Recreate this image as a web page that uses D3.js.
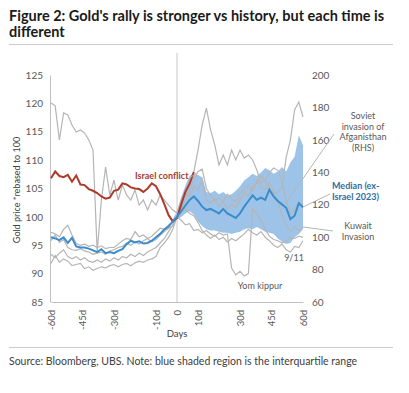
<!DOCTYPE html>
<html>
<head>
<meta charset="utf-8">
<script src="https://cdn.jsdelivr.net/npm/d3@7"></script>
<style>
  body { margin: 0; background: #fff; }
  text { font-family: Lato, "Open Sans", sans-serif; }
</style>
</head>
<body>
<div id="chart"></div>
<script>
// days relative to the event (step 2)
var days = [-60,-58,-56,-54,-52,-50,-48,-46,-44,-42,-40,-38,-36,-34,-32,-30,-28,-26,-24,-22,-20,-18,-16,-14,-12,-10,-8,-6,-4,-2,0,
            2,4,6,8,10,12,14,16,18,20,22,24,26,28,30,32,34,36,38,40,42,44,46,48,50,52,54,56,58,60];

var xTicks = [-60, -45, -30, -10, 0, 10, 30, 45, 60];
var xTickLabels = ["-60d", "-45d", "-30d", "-10d", "0", "10d", "30d", "45d", "60d"];
var leftTicks = [85, 90, 95, 100, 105, 110, 115, 120, 125];
var rightTicks = [60, 80, 100, 120, 140, 160, 180, 200];

// Israel conflict 2023, days -60 .. 8
var israel = [106.8,108.0,107.2,107.0,107.4,106.2,107.3,105.7,105.6,104.9,104.6,104.2,103.6,103.2,103.4,104.6,104.8,105.9,105.7,105.2,105.0,104.9,104.4,105.0,105.9,105.4,104.0,102.2,100.3,99.2,99.8,102.2,104.4,105.8,107.9];

// median ex-Israel, days -60 .. 60
var median = [96.4,96.2,95.9,96.4,95.4,96.3,94.8,94.6,94.6,94.4,94.1,93.8,94.3,93.6,93.8,93.6,94.0,94.3,95.2,95.8,95.5,95.7,95.3,95.4,95.8,96.4,97.0,97.8,98.3,99.2,100.0,
              101.0,102.0,103.0,103.6,102.8,101.8,101.2,101.4,101.0,100.6,101.4,100.6,100.2,99.8,100.6,101.8,102.8,103.8,103.0,103.4,103.0,104.8,103.6,102.8,102.2,101.6,99.6,100.2,102.4,101.7];

// interquartile range, days -2 .. 60
var iqrLow  = [99.0,99.6,100.0,100.6,101.0,100.4,99.2,98.4,97.8,97.6,97.6,97.4,97.2,97.2,97.0,97.2,97.4,97.8,98.0,97.8,98.2,97.8,97.4,97.2,97.0,96.2,95.6,95.2,95.4,96.4,97.0,97.8];
var iqrHigh = [99.6,101.0,103.5,105.5,107.2,107.6,107.4,107.0,104.4,104.2,104.6,104.0,104.4,103.8,104.0,104.6,105.4,106.4,107.0,107.6,107.2,107.8,108.6,108.2,107.6,108.0,108.8,108.0,109.6,110.6,114.4,112.6];

// Soviet invasion of Afghanistan (right axis), days -60 .. 60
var soviet = [182.7,181.0,159.9,176.6,175.3,169.2,164.8,166.1,164.2,159.9,153.7,90.8,122.9,143.2,126.0,135.2,122.9,132.1,126.0,122.9,129.1,119.8,122.9,116.7,122.9,119.8,126.0,122.9,119.8,116.7,114.9,
              122.9,129.1,135.2,140.2,153.7,169.2,179.6,166.1,156.8,144.5,150.6,144.5,153.7,147.6,153.7,148.8,150.6,147.6,141.4,133.4,135.2,129.1,127.2,127.8,130.9,149.4,159.9,178.4,183.3,174.1];

var kuwait = [97.3,97.0,96.5,97.8,98.5,96.8,95.3,95.0,95.2,94.8,95.0,94.6,94.9,94.4,94.6,94.6,95.2,95.8,96.2,96.0,97.4,96.5,96.8,96.2,96.6,97.3,98.0,97.8,98.6,99.0,100.0,
              101.5,103.0,104.5,106.6,108.0,108.4,105.0,103.8,102.8,103.4,102.6,104.0,103.2,102.6,104.2,104.8,105.6,104.6,106.4,105.2,104.8,106.0,104.4,102.6,100.4,98.6,97.4,98.2,97.6,98.1];

var sept11 = [95.8,96.8,95.5,96.0,94.6,94.2,94.1,94.4,94.0,93.8,93.4,93.6,93.8,93.4,94.0,94.2,94.6,94.8,95.4,95.0,95.6,95.2,95.8,96.2,95.6,96.0,96.8,97.4,98.0,98.4,100.0,
              100.8,101.4,100.6,100.2,99.0,97.6,96.8,96.2,96.8,96.0,96.4,95.6,96.2,95.8,96.4,97.0,97.8,97.2,96.8,97.4,96.4,95.8,95.0,94.6,95.2,94.2,93.8,94.8,94.6,95.8];

var yomKippur = [91.8,93.2,92.0,92.6,92.2,91.4,91.6,91.8,90.9,91.2,90.6,90.9,91.2,91.0,91.4,91.6,91.2,91.6,91.8,91.4,91.9,92.2,92.0,92.4,92.6,93.0,94.6,95.4,96.4,97.8,100.0,
                 99.4,98.6,98.8,97.6,97.8,97.2,97.6,97.0,96.6,97.2,96.8,97.0,91.0,89.8,90.4,89.6,90.0,101.4,100.6,99.4,97.8,96.6,96.0,95.8,95.4,95.8,96.4,96.2,96.6,96.4];

var otherEvent = [93.4,92.8,93.6,94.2,93.0,92.6,93.0,92.4,92.8,92.2,92.0,92.4,92.0,92.6,92.2,92.8,92.4,93.0,92.8,93.4,93.0,93.6,93.2,93.8,94.2,94.6,95.4,96.2,97.4,98.6,100.0,
                  102.4,104.2,103.6,105.4,104.8,106.6,103.0,102.4,103.2,101.8,102.6,101.4,102.2,101.6,103.0,104.4,103.6,105.2,106.0,107.2,106.4,107.8,108.6,108.2,106.4,102.8,100.6,101.2,102.6,102.2];

var W = 409, H = 393;
var svg = d3.select("#chart").append("svg")
    .attr("width", W)
    .attr("height", H);

var x = d3.scaleLinear().domain([-60, 60]).range([51, 303]);
var yL = d3.scaleLinear().domain([85, 125]).range([302, 75]);
var yR = d3.scaleLinear().domain([60, 200]).range([302, 75]);

// title, shrunk to fit if the font runs wide
var title = svg.append("g").attr("font-weight", "bold").attr("fill", "#1a1a1a");
var t1 = title.append("text").attr("x", 9).attr("y", 21).style("font-size", "14.5px")
    .text("Figure 2: Gold's rally is stronger vs history, but each time is");
var tw = t1.node().getComputedTextLength();
var fs = tw > 383 ? 14.5 * 383 / tw : 14.5;
t1.style("font-size", fs + "px");
title.append("text").attr("x", 9).attr("y", 37).style("font-size", fs + "px").text("different");

svg.append("line").attr("x1", 9).attr("x2", 393).attr("y1", 44.5).attr("y2", 44.5).attr("stroke", "#cccccc");
svg.append("line").attr("x1", 9).attr("x2", 393).attr("y1", 347.5).attr("y2", 347.5).attr("stroke", "#cccccc");

svg.append("text").attr("x", 9).attr("y", 365)
    .style("font-size", "10.5px").attr("fill", "#404040")
    .text("Source: Bloomberg, UBS. Note: blue shaded region is the interquartile range");

// axes
var gL = svg.append("g").attr("transform", "translate(50,0)")
    .call(d3.axisLeft(yL).tickValues(leftTicks).tickSize(0).tickSizeOuter(0).tickPadding(7));
gL.select(".domain").attr("stroke", "#c0c0c0");
gL.selectAll("text").style("font-size", "10px").attr("fill", "#595959");

var gR = svg.append("g").attr("transform", "translate(309,0)")
    .call(d3.axisRight(yR).tickValues(rightTicks).tickSize(0).tickPadding(3));
gR.select(".domain").remove();
gR.selectAll("text").style("font-size", "10px").attr("fill", "#595959");

var gX = svg.append("g").attr("transform", "translate(0,302)")
    .call(d3.axisBottom(x).tickValues(xTicks).tickSize(0).tickSizeOuter(0)
        .tickFormat(function (d, i) { return xTickLabels[i]; }));
gX.select(".domain").attr("stroke", "#c0c0c0");
gX.selectAll("text")
    .attr("transform", "rotate(-90)")
    .attr("x", -8).attr("y", 0).attr("dy", "0.35em")
    .style("text-anchor", "end")
    .style("font-size", "9.5px").attr("fill", "#595959");

svg.append("text").attr("x", x(0)).attr("y", 337).attr("text-anchor", "middle")
    .style("font-size", "9.5px").attr("fill", "#404040").text("Days");

svg.append("text")
    .attr("transform", "translate(20,190) rotate(-90)")
    .attr("text-anchor", "middle")
    .style("font-size", "9px").attr("fill", "#404040")
    .text("Gold price *rebased to 100");

// event day marker
svg.append("line").attr("x1", x(0)).attr("x2", x(0)).attr("y1", 53).attr("y2", 302)
    .attr("stroke", "#c8c8c8").attr("stroke-width", 1);

// IQR band
var bandStart = days.indexOf(-2);
var area = d3.area()
    .x(function (d, i) { return x(days[bandStart + i]); })
    .y0(function (d, i) { return yL(iqrLow[i]); })
    .y1(function (d) { return yL(d); });
svg.append("path").datum(iqrHigh).attr("d", area).attr("fill", "#9dc4e8");

// grey event lines
var lineL = d3.line().x(function (d, i) { return x(days[i]); }).y(function (d) { return yL(d); });
var lineR = d3.line().x(function (d, i) { return x(days[i]); }).y(function (d) { return yR(d); });

[kuwait, sept11, yomKippur, otherEvent].forEach(function (s) {
    svg.append("path").datum(s).attr("d", lineL)
        .attr("fill", "none").attr("stroke", "#b5b5b5").attr("stroke-width", 1.2);
});
svg.append("path").datum(soviet).attr("d", lineR)
    .attr("fill", "none").attr("stroke", "#b5b5b5").attr("stroke-width", 1.2);

// Israel and median
svg.append("path").datum(israel).attr("d", lineL)
    .attr("fill", "none").attr("stroke", "#ad3b2c").attr("stroke-width", 2);
svg.append("path").datum(median).attr("d", lineL)
    .attr("fill", "none").attr("stroke", "#3a8ccc").attr("stroke-width", 2);

// annotations, one text element per line
var lab = svg.append("g").style("font-size", "9px");
function block(lines, xPos, yTop, anchor, color, bold) {
    lines.forEach(function (t, i) {
        lab.append("text").attr("x", xPos).attr("y", yTop + i * 10.7)
            .attr("text-anchor", anchor).attr("fill", color)
            .attr("font-weight", bold ? "bold" : null)
            .text(t);
    });
}

block(["Israel conflict"], 135, 179, "start", "#ad3b2c", true);
lab.append("line").attr("x1", 190).attr("y1", 178).attr("x2", 196).attr("y2", 173).attr("stroke", "#b5b5b5");

block(["Soviet", "invasion of", "Afganisthan", "(RHS)"], 363, 119, "middle", "#595959", false);
lab.append("line").attr("x1", 334).attr("y1", 134).attr("x2", 286).attr("y2", 203).attr("stroke", "#b5b5b5");

block(["Median (ex-", "Israel 2023)"], 332, 189, "start", "#2e6da4", true);
lab.append("line").attr("x1", 303).attr("y1", 207).attr("x2", 330).attr("y2", 194).attr("stroke", "#b5b5b5");

block(["Kuwait", "Invasion"], 358, 229, "middle", "#595959", false);
lab.append("line").attr("x1", 303).attr("y1", 227).attr("x2", 333).attr("y2", 231).attr("stroke", "#b5b5b5");

block(["9/11"], 294, 261, "middle", "#595959", false);
block(["Yom kippur"], 260, 289, "middle", "#595959", false);
</script>
</body>
</html>
